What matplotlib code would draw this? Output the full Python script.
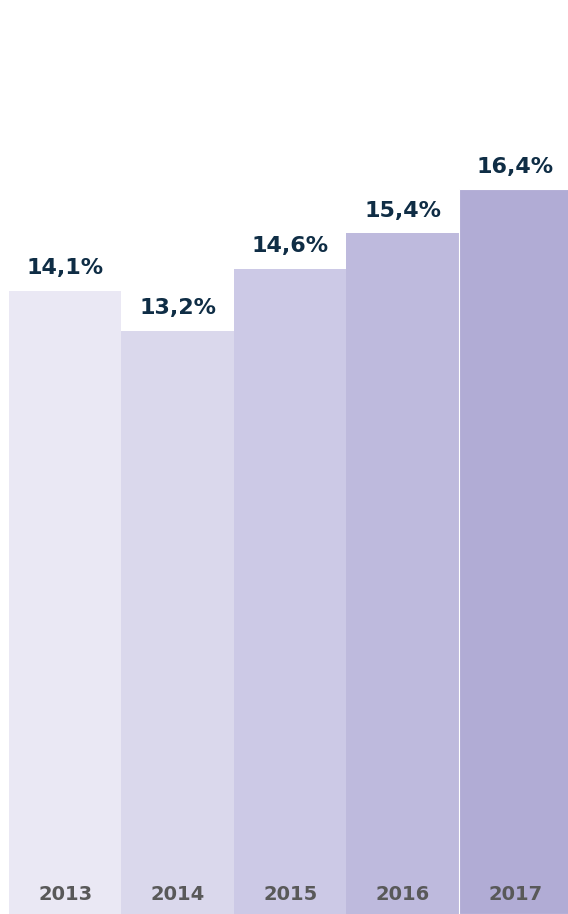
import matplotlib
matplotlib.use("Agg")
import matplotlib.pyplot as plt

years = ["2013", "2014", "2015", "2016", "2017"]
values = [14.1, 13.2, 14.6, 15.4, 16.4]
labels = ["14,1%", "13,2%", "14,6%", "15,4%", "16,4%"]
colors = ["#EAE8F4", "#DAD8EC", "#CCC9E6", "#BEBADD", "#B1ACD5"]

fig = plt.figure(figsize=(5.68, 9.14), dpi=100)
ax = fig.add_axes([0, 0, 1, 1])
x = list(range(len(years)))
bars = ax.bar(x, values, width=1.0, color=colors, edgecolor="none")
# thin white separator before last bar
bars[-1].set_edgecolor("white")
bars[-1].set_linewidth(0.8)

for xi, v, lab in zip(x, values, labels):
    ax.annotate(lab, (xi, v), xytext=(0, 9), textcoords="offset points",
                ha="center", va="bottom", fontsize=16, fontweight="bold",
                color="#0F2D45", family="DejaVu Sans")
for xi, yr in zip(x, years):
    ax.annotate(yr, (xi, 0), xytext=(0, 7), textcoords="offset points",
                ha="center", va="bottom", fontsize=14, fontweight="bold",
                color="#595959", family="DejaVu Sans")

ax.set_xlim(-0.58, 4.469)
ax.set_ylim(0, 20.68)
ax.axis("off")
fig.savefig("out.png", dpi=100)
